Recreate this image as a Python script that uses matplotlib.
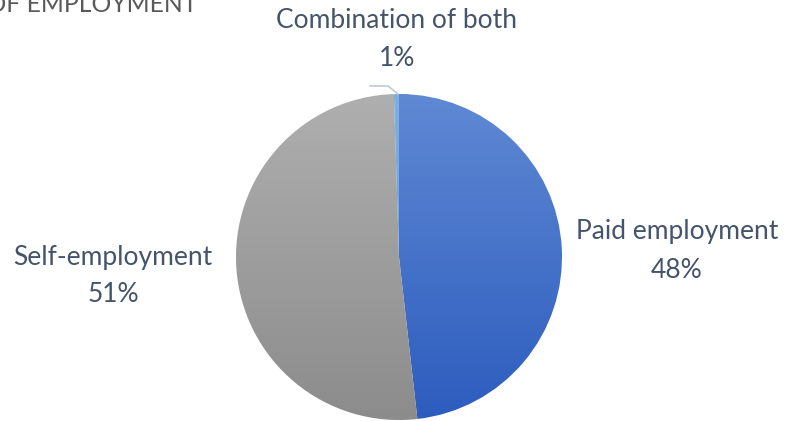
import numpy as np
import matplotlib
matplotlib.use("Agg")
import matplotlib.pyplot as plt
from matplotlib.colors import LinearSegmentedColormap

categories = ["Paid employment", "Self-employment", "Combination of both"]
values = [48.2, 51.3, 0.5]
pct_labels = ["48%", "51%", "1%"]
title = "TYPE OF EMPLOYMENT"

W, H = 796, 421
fig = plt.figure(figsize=(W / 100, H / 100), dpi=100)
ax = fig.add_axes([0, 0, 1, 1])

cx, cy, r = 399, H - 257, 163
wedges, _ = ax.pie(values, startangle=90, counterclock=False, center=(cx, cy),
                   radius=r, frame=True,
                   wedgeprops=dict(linewidth=0.8, edgecolor="white"))
ax.set_xlim(0, W)
ax.set_ylim(0, H)
ax.set_aspect("equal")
ax.axis("off")

grads = [("#6089D4", "#2C5CBE"), ("#AFAFAF", "#8C8C8C"), ("#7FB0E0", "#5B9BD5")]
grad = np.linspace(0, 1, 256).reshape(-1, 1)
for w, (c1, c2) in zip(wedges, grads):
    w.set_facecolor(c1)
    cmap = LinearSegmentedColormap.from_list("g", [c1, c2])
    im = ax.imshow(grad, cmap=cmap, extent=(cx - r, cx + r, cy - r, cy + r),
                   origin="upper", aspect="auto", zorder=w.get_zorder() + 0.1)
    im.set_clip_path(w)
ax.set_xlim(0, W)
ax.set_ylim(0, H)

txt_color = "#44546A"
fs = 19
font = "Lato"
def lab(x, y, s):
    ax.text(x, H - y, s, ha="center", va="center", fontsize=fs,
            color=txt_color, family=font)

lab(677, 232, categories[0])
lab(677, 270, pct_labels[0])
lab(113, 257, categories[1])
lab(113, 294, pct_labels[1])
lab(397, 21, categories[2])
lab(397, 58, pct_labels[2])

# leader line
ax.plot([370, 388, 398], [H - 86, H - 86, H - 94], color="#BFC9D9", lw=1.2, zorder=5)

# cut-off title
ax.text(197, H - 12, title, ha="right", va="baseline", fontsize=17.8,
        color="#595959", family=font)

fig.savefig("out.png", dpi=100)
